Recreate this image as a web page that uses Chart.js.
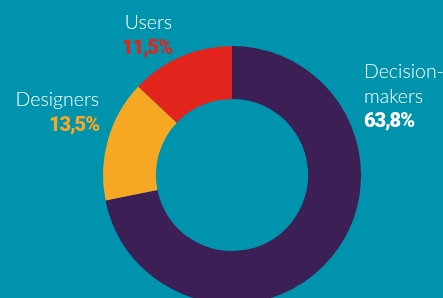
<!DOCTYPE html>
<html>
<head>
<meta charset="utf-8">
<script src="https://cdn.jsdelivr.net/npm/chart.js@4/dist/chart.umd.min.js"></script>
<style>
  html, body { margin: 0; padding: 0; background: #0093ad; overflow: hidden; }
  #wrap { position: relative; width: 443px; height: 320px; }
</style>
</head>
<body>
<div id="wrap"><canvas id="donut"></canvas></div>
<script>
// data
const categories = ["Decision-makers", "Designers", "Users"];
const shares = [63.8, 13.5, 11.5];

// label lines for each category (name split as in the picture)
const nameLines = [["Decision-", "makers"], ["Designers"], ["Users"]];

// colours
const sliceColors = ["#3b1f55", "#f7a823", "#e3241c"];
const valueColors = ["#ffffff", "#f7a823", "#e3241c"];

// where the labels sit (x, y of first line baseline, alignment)
const labelPos = [
  { x: 364, y: 78, align: "left" },
  { x: 99, y: 106, align: "right" },
  { x: 172, y: 29, align: "right" }
];

const lineGap = 24.5;

const fmt = (v) => v.toFixed(1).replace(".", ",") + "%";

// draws the names + percentages next to the ring
const labelPlugin = {
  id: "sideLabels",
  afterDraw(chart) {
    const ctx = chart.ctx;
    ctx.save();
    ctx.textBaseline = "alphabetic";
    categories.forEach((c, i) => {
      const p = labelPos[i];
      ctx.textAlign = p.align;
      let y = p.y;
      ctx.fillStyle = "#ffffff";
      ctx.font = "300 19.5px Lato, sans-serif";
      ctx.letterSpacing = "0px";
      nameLines[i].forEach((line) => {
        ctx.fillText(line, p.x, y);
        y += lineGap;
      });
      ctx.fillStyle = valueColors[i];
      ctx.font = "900 20px Roboto, sans-serif";
      ctx.letterSpacing = "-1px";
      ctx.fillText(fmt(shares[i]), p.x, y);
    });
    ctx.restore();
  }
};

const canvas = document.querySelector("#donut");
const ctx = canvas.getContext("2d");

let mChart = new Chart(ctx, {
  type: "doughnut",
  data: {
    labels: categories,
    datasets: [
      {
        data: shares,
        backgroundColor: sliceColors,
        borderWidth: 0
      }
    ]
  },
  options: {
    responsive: true,
    maintainAspectRatio: false,
    animation: false,
    cutout: "59%",
    layout: {
      // puts the ring centre at about (232, 175), radius 129
      padding: { left: 103, right: 82, top: 46, bottom: 16 }
    },
    plugins: {
      legend: { display: false },
      tooltip: { enabled: false }
    }
  },
  plugins: [labelPlugin]
});
</script>
</body>
</html>
